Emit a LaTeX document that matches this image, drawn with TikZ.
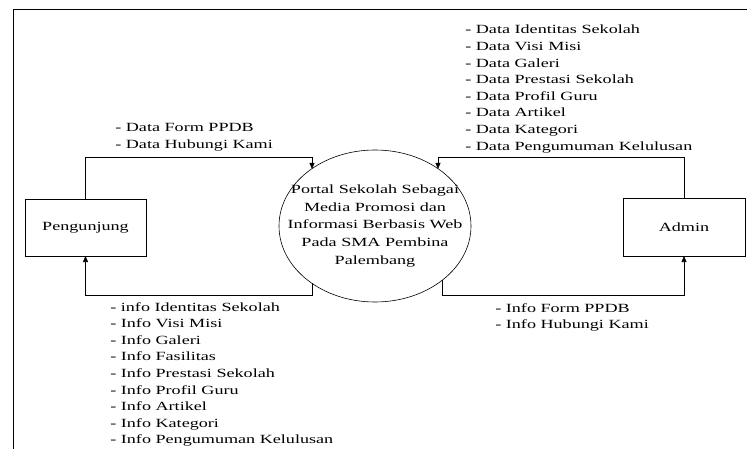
\documentclass[tikz,border=0pt]{standalone}
\usepackage{fontspec}
\setmainfont{Liberation Serif}[FakeStretch=1.45]
\usetikzlibrary{arrows.meta, shapes.geometric}
\tikzset{
  entity/.style={draw, minimum width=121pt, minimum height=57pt, inner sep=0pt, outer sep=0pt, font=\fontsize{12.5pt}{15pt}\selectfont},
  process/.style={draw, ellipse, minimum width=192pt, minimum height=152pt, inner sep=0pt, outer sep=0pt},
  processtext/.style={align=center, inner sep=0pt, font=\fontsize{12.5pt}{17.7pt}\selectfont},
  flow/.style={-{Triangle[length=6pt,width=5pt]}},
  flowlabel/.style={anchor=north west, inner sep=0pt, align=left, font=\fontsize{12.5pt}{16.6pt}\selectfont}
}
\begin{document}
\begin{tikzpicture}[x=1pt, y=1pt, line width=0.6pt]
\clip (0,0) rectangle (747,448);
% frame
\draw[line width=0.9pt] (13,-10) rectangle (760,439);
% entities and process
\node[entity] (pengunjung) at (85.5,220.5) {Pengunjung};
\node[entity, minimum width=122pt, minimum height=58pt] (admin) at (684,221) {Admin};
\node[process] (portal) at (375,222) {};
\node[processtext] (portalText) at (portal.center) {Portal Sekolah Sebagai\\Media Promosi dan\\Informasi Berbasis Web\\Pada SMA Pembina\\Palembang};
% turning points
\coordinate (inL) at (312,291);
\coordinate (inR) at (438,291);
\coordinate (outL) at (312,153);
\coordinate (outR) at (442,153);
% flows
\draw[flow] (pengunjung.north) |- (inL) -- (inL |- portal.138);
\draw[flow] (admin.north) |- (inR) -- (inR |- portal.42);
\draw[flow] (outL |- portal.222) -- (outL) -| (pengunjung.south);
\draw[flow] (outR |- portal.321) -- (outR) -| (admin.south);
% labels
\path (115,325) node[flowlabel] (dataPeng) {- Data Form PPDB\\- Data Hubungi Kami};
\path (465,423) node[flowlabel] (dataAdm) {- Data Identitas Sekolah\\- Data Visi Misi\\- Data Galeri\\- Data Prestasi Sekolah\\- Data Profil Guru\\- Data Artikel\\- Data Kategori\\- Data Pengumuman Kelulusan};
\path (110,146) node[flowlabel] (infoPeng) {- info Identitas Sekolah\\- Info Visi Misi\\- Info Galeri\\- Info Fasilitas\\- Info Prestasi Sekolah\\- Info Profil Guru\\- Info Artikel\\- Info Kategori\\- Info Pengumuman Kelulusan};
\path (495,145) node[flowlabel] (infoAdm) {- Info Form PPDB\\- Info Hubungi Kami};
\end{tikzpicture}
\end{document}
